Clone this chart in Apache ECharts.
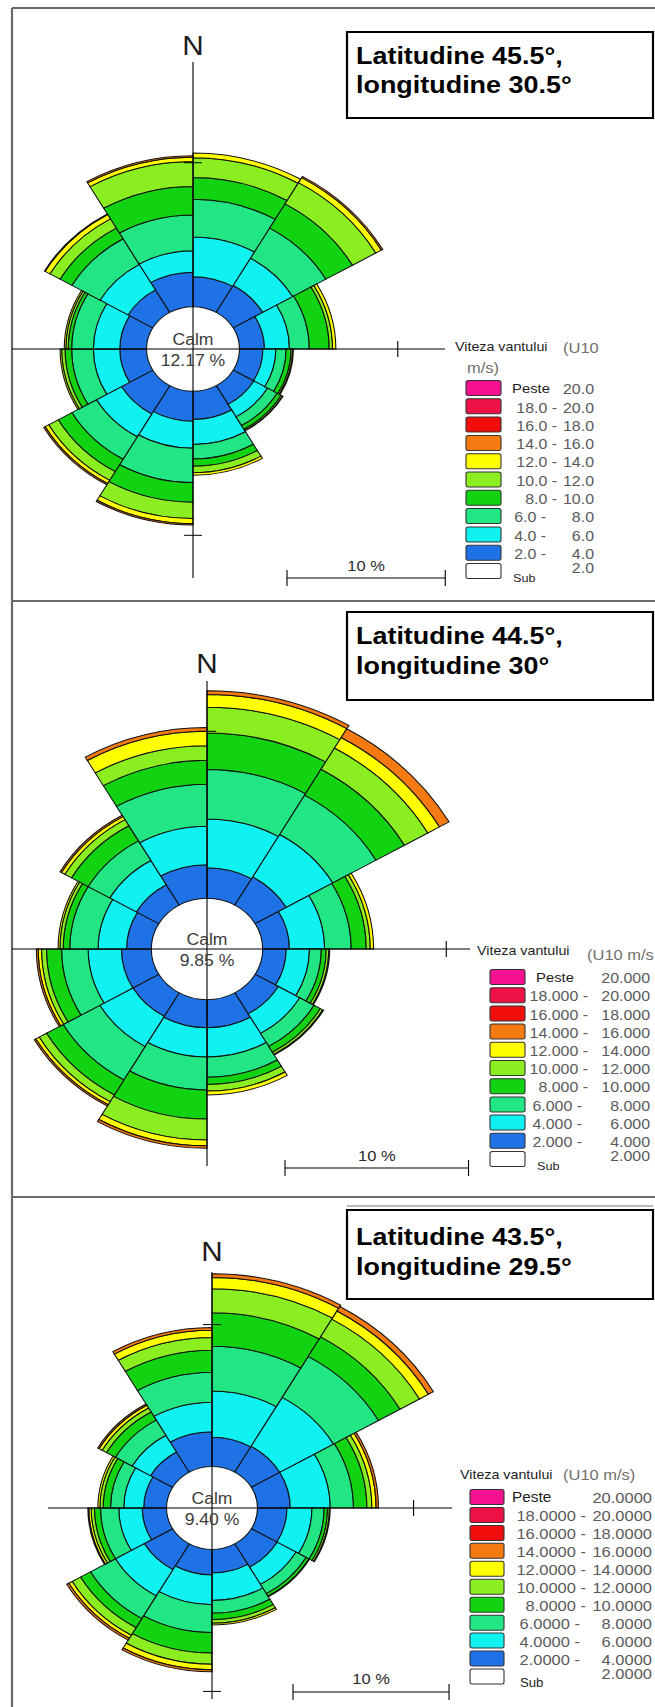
<!DOCTYPE html>
<html>
<head>
<meta charset="utf-8">
<script src="https://cdn.jsdelivr.net/npm/echarts/dist/echarts.min.js"></script>
<style>
  html, body { margin: 0; padding: 0; background: #fff; overflow: hidden; }
  #wrap { width: 655px; height: 1707px; overflow: hidden; position: relative; }
  #chart { width: 596px; height: 1707px; transform: scaleX(1.0990); transform-origin: 0 0; }
</style>
</head>
<body>
<div id="wrap"><div id="chart"></div></div>
<script>
// ---------------- data ----------------
const sectors = ['0°–30°', '30°–60°', '60°–90°', '90°–120°', '120°–150°', '150°–180°',
                 '180°–210°', '210°–240°', '240°–270°', '270°–300°', '300°–330°', '330°–360°'];
const speedEdges = [2, 4, 6, 8, 10, 12, 14, 16, 18, 20];   // m/s class limits
const legendDecimals = [1, 3, 4];
const calm = [12.17, 9.85, 9.40];                            // % calm per site
const titleLines = [
  ['Latitudine 45.5°,', 'longitudine 30.5°'],
  ['Latitudine 44.5°,', 'longitudine 30°'],
  ['Latitudine 43.5°,', 'longitudine 29.5°']
];

// frequency (%) per direction sector, one array per speed class
// site 1: 45.5N 30.5E
const p1_2_4   = [2.08, 2.15, 1.58, 1.48, 1.50, 1.95, 2.08, 2.28, 1.69, 1.69, 1.80, 2.40];
const p1_4_6   = [2.76, 2.19, 1.58, 0.82, 1.00, 1.75, 1.88, 1.82, 1.67, 1.67, 2.05, 1.48];
const p1_6_8   = [2.62, 2.42, 1.25, 0.65, 0.70, 1.00, 2.38, 1.80, 1.37, 1.37, 2.05, 2.48];
const p1_8_10  = [1.51, 1.94, 1.26, 0.31, 0.30, 0.50, 1.36, 1.00, 0.42, 0.22, 0.86, 1.99];
const p1_10_12 = [1.38, 1.70, 0.21, 0.10, 0.10, 0.45, 1.14, 0.70, 0.21, 0.15, 0.74, 1.73];
const p1_12_14 = [0.32, 0.40, 0.21, 0.05, 0.03, 0.18, 0.35, 0.25, 0.10, 0.10, 0.35, 0.30];
const p1_14_16 = [0.00, 0.10, 0.00, 0.00, 0.00, 0.00, 0.10, 0.10, 0.00, 0.00, 0.05, 0.10];
// site 2: 44.5N 30E
const p2_2_4   = [1.83, 1.95, 1.46, 1.28, 1.45, 1.68, 1.68, 1.62, 1.63, 1.35, 1.41, 2.01];
const p2_4_6   = [2.92, 2.93, 1.91, 1.27, 1.35, 1.75, 1.75, 2.09, 1.81, 1.55, 1.67, 2.30];
const p2_6_8   = [2.96, 2.72, 1.45, 0.64, 0.90, 1.21, 1.97, 2.31, 1.45, 1.54, 1.36, 2.52];
const p2_8_10  = [2.19, 1.79, 0.82, 0.27, 0.40, 0.44, 1.75, 1.04, 0.82, 0.36, 1.05, 1.43];
const p2_10_12 = [1.54, 1.47, 0.22, 0.14, 0.15, 0.39, 1.25, 0.46, 0.27, 0.18, 0.42, 0.88];
const p2_12_14 = [0.76, 0.73, 0.18, 0.05, 0.05, 0.23, 0.35, 0.21, 0.18, 0.10, 0.21, 0.86];
const p2_14_16 = [0.23, 0.60, 0.00, 0.00, 0.00, 0.00, 0.15, 0.10, 0.10, 0.00, 0.09, 0.23];
// site 3: 43.5N 29.5E
const p3_2_4   = [2.06, 2.10, 2.10, 1.89, 1.90, 1.67, 1.80, 2.10, 1.56, 1.46, 1.64, 2.45];
const p3_4_6   = [3.27, 3.98, 2.56, 1.60, 1.40, 1.93, 2.09, 2.13, 1.50, 1.28, 1.36, 2.09];
const p3_6_8   = [3.14, 3.33, 1.49, 0.78, 0.75, 0.90, 1.97, 1.85, 1.17, 0.85, 1.23, 2.10];
const p3_8_10  = [2.36, 1.59, 0.86, 0.22, 0.20, 0.44, 1.44, 0.74, 0.39, 0.47, 0.66, 1.56];
const p3_10_12 = [1.70, 1.44, 0.32, 0.12, 0.05, 0.26, 0.78, 0.61, 0.21, 0.21, 0.33, 0.90];
const p3_12_14 = [0.79, 0.66, 0.27, 0.05, 0.00, 0.13, 0.39, 0.25, 0.15, 0.13, 0.22, 0.50];
const p3_14_16 = [0.26, 0.37, 0.15, 0.00, 0.00, 0.00, 0.15, 0.15, 0.06, 0.00, 0.10, 0.20];

const siteBands = [
  [p1_2_4, p1_4_6, p1_6_8, p1_8_10, p1_10_12, p1_12_14, p1_14_16],
  [p2_2_4, p2_4_6, p2_6_8, p2_8_10, p2_10_12, p2_12_14, p2_14_16],
  [p3_2_4, p3_4_6, p3_6_8, p3_8_10, p3_10_12, p3_12_14, p3_14_16]
];

// ---------------- styling ----------------
// colours from the lowest class (2-4) upwards to "Peste 20"
const classColors = ['#1f72e6', '#10f2f2', '#22e583', '#12d312', '#8aee20', '#ffff00',
                     '#f57a12', '#f20d0d', '#ee1147', '#f5118f'];
const FONT = '"Liberation Sans", Arial, Helvetica, sans-serif';

const W = 596, H = 1707, K = 655 / W;          // drawing is widened by K on screen
const X = x => x / K;                          // screen x -> drawing x

const layout = [
  { cx: 193, cy: 349, r0: 42.3, s: 14.4, vTop: 62, vBot: 578, hL: 12, hR: 445, nY: 45,
    box: [32, 118], t1: 55, t2: 84,
    lg: { bL: 466, bR: 501, row0: 388, step: 18.3, rX: 594, d2: 557, d1: 546, pX: 512, sX: 513, fs: 14.5,
          tX: 455, tY: 347, u: '(U10', uX: 563, uY: 348, u2: 'm/s)', u2X: 467, u2Y: 368 },
    bar: { x0: 287, y: 578, ty: 566 } },
  { cx: 207, cy: 949, r0: 50.7, s: 16.7, vTop: 681, vBot: 1166, hL: 12, hR: 470, nY: 663,
    box: [612, 700], t1: 635, t2: 665,
    lg: { bL: 490, bR: 525, row0: 977, step: 18.2, rX: 650, d2: 588, d1: 582, pX: 536, sX: 537, fs: 14.5,
          tX: 477, tY: 951, u: '(U10 m/s', uX: 587, uY: 955 },
    bar: { x0: 285, y: 1168, ty: 1156 } },
  { cx: 212, cy: 1508, r0: 41.4, s: 14.2, vTop: 1272, vBot: 1699, hL: 48, hR: 452, nY: 1251,
    box: [1210, 1299], t1: 1236, t2: 1266,
    lg: { bL: 470, bR: 504, row0: 1497, step: 17.95, rX: 652, d2: 586, d1: 580, pX: 512, sX: 520, fs: 15,
          tX: 460, tY: 1475, u: '(U10 m/s)', uX: 563, uY: 1475 },
    bar: { x0: 293, y: 1692, ty: 1679 } }
];
const R_MAX = 16;   // % at the outer edge of each polar grid

// ---------------- graphic helpers ----------------
const line = (x1, y1, x2, y2, stroke, lw) => ({
  type: 'line', silent: true, z: 100,
  shape: { x1: X(x1), y1: y1, x2: X(x2), y2: y2 },
  style: { stroke: stroke || '#000', lineWidth: lw || 1 }
});
const rect = (x1, y1, x2, y2, fill, stroke, lw, r) => ({
  type: 'rect', silent: true, z: 90,
  shape: { x: X(x1), y: y1, width: X(x2) - X(x1), height: y2 - y1, r: r || 0 },
  style: { fill: fill, stroke: stroke, lineWidth: lw || 1 }
});
const text = (x, y, str, size, color, align, weight) => ({
  type: 'text', silent: true, z: 110, x: X(x), y: y,
  style: { text: str, fill: color, textAlign: align || 'left', textVerticalAlign: 'middle',
           verticalAlign: 'middle', font: (weight || 'normal') + ' ' + size + 'px ' + FONT }
});

const elements = [];
// frame
elements.push(line(12, 8, 655, 8, '#6a6a6a', 2));
elements.push(line(12, 8, 12, 1707, '#6a6a6a', 2));
elements.push(line(12, 601, 655, 601, '#6a6a6a', 2));
elements.push(line(12, 1197, 655, 1197, '#6a6a6a', 2));

const polar = [], angleAxis = [], radiusAxis = [], series = [];

layout.forEach((L, i) => {
  const rOut = L.r0 + R_MAX * L.s;
  polar.push({ center: [X(L.cx), L.cy], radius: [L.r0, rOut] });
  angleAxis.push({ polarIndex: i, type: 'category', data: sectors, startAngle: 90, clockwise: true,
                   boundaryGap: true, show: false });
  radiusAxis.push({ polarIndex: i, type: 'value', min: 0, max: R_MAX, show: false });

  siteBands[i].forEach((vals, c) => {
    series.push({
      type: 'bar', coordinateSystem: 'polar', polarIndex: i, stack: 'site' + i,
      name: 'site' + i + '-' + speedEdges[c] + '-' + speedEdges[c + 1],
      data: vals.map(v => (v > 0 ? v : null)),
      barCategoryGap: '0%', silent: true, animation: false,
      itemStyle: { color: classColors[c], borderColor: '#111', borderWidth: 1 }
    });
  });

  // cross axes with 10 % ticks (radius measured from the calm circle)
  const r10 = L.r0 + 10 * L.s;                 // drawing units
  const cxd = X(L.cx);
  elements.push(line(L.cx, L.vTop, L.cx, L.vBot));
  elements.push(line(L.hL, L.cy, L.hR, L.cy));
  const tickX = (cxd + r10) * K;
  elements.push(line(tickX, L.cy - 8, tickX, L.cy + 8));
  [L.cy - r10, L.cy + r10].forEach(ty => {
    if (ty > L.vTop && ty < L.vBot) elements.push(line(L.cx - 9, ty, L.cx + 9, ty));
  });

  // north label and calm value
  elements.push(text(L.cx, L.nY, 'N', 27, '#1a1a1a', 'center'));
  elements.push(text(L.cx, L.cy - 9, 'Calm', 16, '#3c3c3c', 'center'));
  elements.push(text(L.cx, L.cy + 12, calm[i].toFixed(2) + ' %', 16, '#3c3c3c', 'center'));

  // title box
  if (i === 2) elements.push(line(347, L.box[0] - 4, 653, L.box[0] - 4, '#777', 1));
  elements.push(rect(347, L.box[0], 653, L.box[1], '#fff', '#000', 2));
  elements.push(text(356, L.t1, titleLines[i][0], 24.5, '#000', 'left', 'bold'));
  elements.push(text(356, L.t2, titleLines[i][1], 24.5, '#000', 'left', 'bold'));

  // 10 % scale bar
  const bx1 = L.bar.x0 + 10 * L.s * K;
  elements.push(line(L.bar.x0, L.bar.y, bx1, L.bar.y));
  elements.push(line(L.bar.x0, L.bar.y - 8, L.bar.x0, L.bar.y + 8));
  elements.push(line(bx1, L.bar.y - 8, bx1, L.bar.y + 8));
  elements.push(text((L.bar.x0 + bx1) / 2, L.bar.ty, '10 %', 15, '#2a2a2a', 'center'));

  // legend
  const g = L.lg, dec = legendDecimals[i], fmt = v => v.toFixed(dec);
  elements.push(text(g.tX, g.tY, 'Viteza vantului', 13, '#1e1e1e'));
  elements.push(text(g.uX, g.uY, g.u, 15, '#6e6e6e'));
  if (g.u2) elements.push(text(g.u2X, g.u2Y, g.u2, 15, '#6e6e6e'));
  for (let r = 0; r <= 10; r++) {
    const y = g.row0 + r * g.step;
    const fill = r === 10 ? '#ffffff' : classColors[9 - r];
    elements.push(rect(g.bL, y - 7.5, g.bR, y + 7.5, fill, '#333', 1, 2));
    if (r === 0) {
      elements.push(text(g.pX, y, 'Peste', g.fs - 1, '#1e1e1e'));
      elements.push(text(g.rX, y + 1, fmt(speedEdges[9]), g.fs, '#5a5a5a', 'right'));
    } else if (r === 10) {
      elements.push(text(g.sX, y + 7, 'Sub', g.fs - 3, '#1e1e1e'));
      elements.push(text(g.rX, y - 3, fmt(speedEdges[0]), g.fs, '#5a5a5a', 'right'));
    } else {
      const lo = speedEdges[9 - r], hi = speedEdges[10 - r];
      elements.push(text(hi >= 10 ? g.d2 : g.d1, y + 1, fmt(lo) + ' -', g.fs, '#5a5a5a', 'right'));
      elements.push(text(g.rX, y + 1, fmt(hi), g.fs, '#5a5a5a', 'right'));
    }
  }
});

const chart = echarts.init(document.getElementById('chart'), null,
                           { renderer: 'svg', width: W, height: H });
chart.setOption({
  backgroundColor: '#ffffff',
  animation: false,
  polar: polar,
  angleAxis: angleAxis,
  radiusAxis: radiusAxis,
  series: series,
  graphic: { elements: elements }
});
</script>
</body>
</html>
